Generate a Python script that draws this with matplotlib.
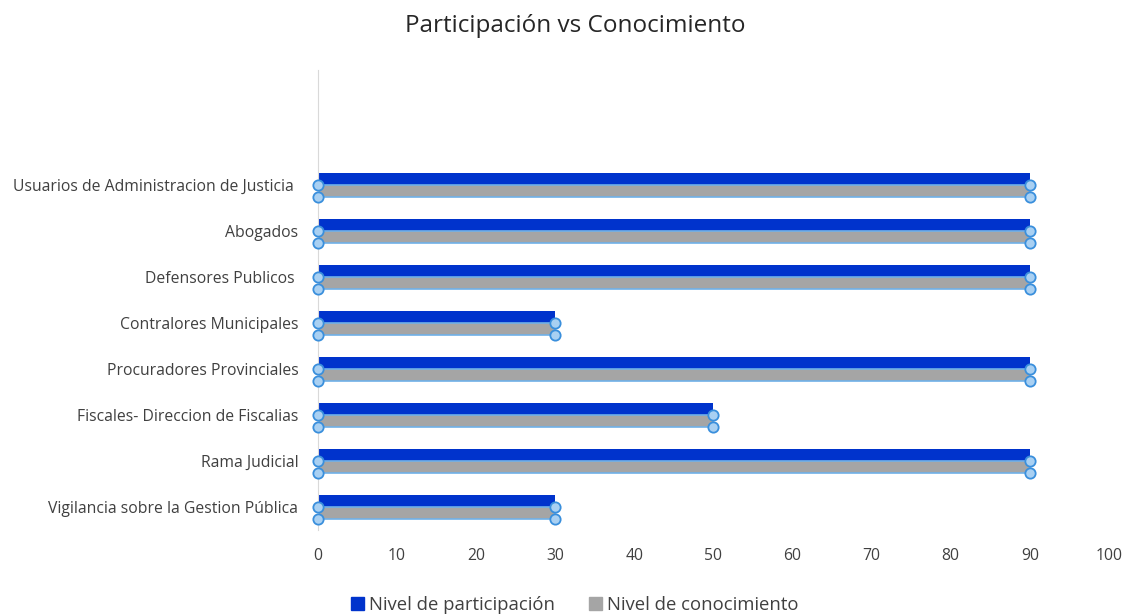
import matplotlib.pyplot as plt
import numpy as np

plt.rcParams['font.family'] = ['Open Sans', 'DejaVu Sans']

# Datos
categorias = ["Vigilancia sobre la Gestion Pública", "Rama Judicial",
              "Fiscales- Direccion de Fiscalias", "Procuradores Provinciales",
              "Contralores Municipales", "Defensores Publicos ",
              "Abogados", "Usuarios de Administracion de Justicia "]
participacion = [30, 90, 50, 90, 30, 90, 90, 90]
conocimiento = [30, 90, 50, 90, 30, 90, 90, 90]

fig = plt.figure(figsize=(11.27, 6.15), dpi=100)
ax = fig.add_axes([0.282, 0.138, 0.702, 0.748])

y = np.arange(len(categorias))
h = 0.26
ax.barh(y + h / 2, participacion, height=h, color="#0033cc", zorder=2)
ax.barh(y - h / 2, conocimiento, height=h, color="#a5a5a5",
        edgecolor="#6fb0e8", linewidth=1.2, zorder=2)

# selection handles on the gray series
for yi, v in zip(y, conocimiento):
    ax.scatter([0, v, 0, v], [yi, yi, yi - h, yi - h], s=55, color="#a9d0f2",
               edgecolor="#3a8fdc", linewidth=1.3, zorder=4, clip_on=False)

ax.set_xlim(0, 100)
ax.set_ylim(-0.5, 9.5)
ax.set_xticks(range(0, 101, 10))
ax.set_yticks(y)
ax.set_yticklabels(categorias)
ax.tick_params(axis="both", length=0, labelsize=11.3, colors="#404040")
ax.tick_params(axis="y", pad=14)
ax.tick_params(axis="x", pad=13)
for s in ["top", "right", "bottom"]:
    ax.spines[s].set_visible(False)
ax.spines["left"].set_color("#d9d9d9")

fig.suptitle("Participación vs Conocimiento", x=0.51, y=0.978, fontsize=17.5, color="#262626")

handles = [plt.Rectangle((0, 0), 1, 1, color="#0033cc"),
           plt.Rectangle((0, 0), 1, 1, color="#a5a5a5")]
fig.legend(handles, ["Nivel de participación", "Nivel de conocimiento"],
           loc="lower center", bbox_to_anchor=(0.51, -0.025), ncol=2, frameon=False,
           fontsize=13.3, handlelength=0.7, handleheight=0.7, handletextpad=0.3,
           columnspacing=1.8, labelcolor="#404040")

fig.savefig("out.png", dpi=100)
